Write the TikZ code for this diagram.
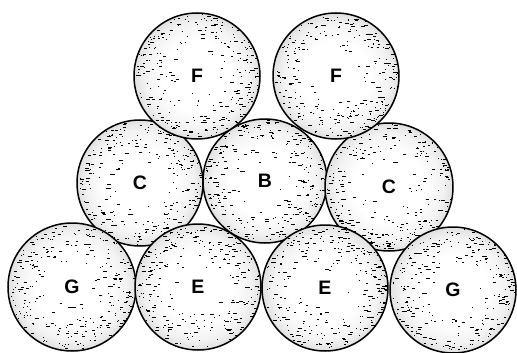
\documentclass[tikz,border=0pt]{standalone}
\usepackage{fontspec}
\setmainfont{Liberation Sans}
\pgfdeclareradialshading{stip}{\pgfpoint{0bp}{0bp}}{color(0bp)=(white); color(14bp)=(white); color(21bp)=(white!95!black); color(25bp)=(white!88!black); color(50bp)=(white!88!black)}
\newcommand{\stipdots}[1]{%
  \foreach \i in {1,...,270}{%
    \pgfmathsetmacro\ang{360*rnd}%
    \pgfmathsetmacro\rr{13+((#1)-13)*rnd^0.33}%
    \pgfmathsetmacro\len{0.7+3.8*rnd^2}%
    \draw[line width=0.9pt,black] ([shift={(\ang:\rr)}]path picture bounding box.center) -- ++(\len,0);
  }}
\tikzset{
  ball/.style={circle, draw=black, line width=1.5pt, shading=stip, inner sep=0pt, minimum size=#1,
    font=\fontsize{19.5}{19.5}\selectfont\bfseries,
    path picture={\stipdots{#1/2-1.5}}},
}
\begin{document}
\begin{tikzpicture}[x=1pt,y=-1pt]
\pgfmathsetseed{17}
\useasboundingbox[fill=white] (0,0) rectangle (517,353);
% middle row
\node[ball=126] (c1) at (140,183) {C};
\node[ball=124] (b) at (265,181) {B};
\node[ball=128] (c2) at (389,187) {C};
% top row
\node[ball=126] (f1) at (197,76) {F};
\node[ball=126] (f2) at (336,76) {F};
% bottom row
\node[ball=128] (g1) at (72,287) {G};
\node[ball=126] (e1) at (198,287) {E};
\node[ball=126] (e2) at (325,288) {E};
\node[ball=126] (g2) at (453,290) {G};
\end{tikzpicture}
\end{document}
